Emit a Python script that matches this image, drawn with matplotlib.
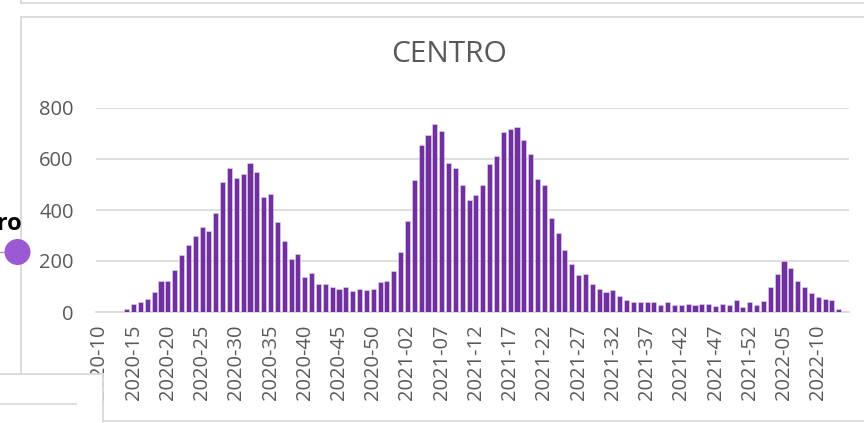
import matplotlib
matplotlib.use("Agg")
import matplotlib.pyplot as plt
from matplotlib.lines import Line2D
from matplotlib.patches import Rectangle, Ellipse

# ---- data ----
weeks_2020 = list(range(10, 54))
weeks_2021 = list(range(1, 53))
weeks_2022 = list(range(1, 15))
categories = ([f"2020-{w:02d}" for w in weeks_2020] +
              [f"2021-{w:02d}" for w in weeks_2021] +
              [f"2022-{w:02d}" for w in weeks_2022])

values = [0, 0, 0, 0,
          12, 32, 41, 52, 77, 120, 120, 165, 222, 261,
          300, 335, 316, 389, 509, 564, 525, 541, 583, 550,
          451, 463, 351, 277, 209, 227, 139, 154, 110, 110,
          100, 91, 100, 81, 91, 86, 91, 116, 121, 160,
          234, 355, 516, 654, 693, 739, 711, 585, 566, 497,
          438, 457, 497, 581, 610, 707, 716, 727, 673, 620,
          523, 497, 370, 308, 243, 188, 145, 150, 111, 91,
          78, 87, 62, 47, 39, 39, 39, 39, 27, 39,
          27, 27, 32, 27, 32, 32, 22, 32, 27, 47,
          18, 39, 27, 43, 97, 150, 199, 174, 121, 97,
          73, 58, 52, 47, 13, 0]

y_ticks = [0, 200, 400, 600, 800]
title = "CENTRO"
side_label = "Centro"

# ---- figure ----
W, H = 864, 423
fig = plt.figure(figsize=(W / 100, H / 100), dpi=100)
fig.patch.set_facecolor("white")

def fx(x):
    return x / W

def fy(y):
    return 1 - y / H

FONT = ["Open Sans", "DejaVu Sans"]
GRID = "#d9d9d9"
TXT = "#595959"

ax = fig.add_axes([fx(96), fy(312), (849 - 96) / W, (312 - 108) / H])
x = list(range(len(categories)))
ax.bar(x, values, width=0.74, color="#7030a0", edgecolor="#e4d6f0", linewidth=0.4, zorder=3)
ax.set_xlim(-0.5, len(categories) - 0.5)
ax.set_ylim(0, 800)
ax.set_yticks(y_ticks)
ax.set_yticklabels([str(v) for v in y_ticks], fontsize=14.5, color=TXT, family=FONT)
ax.set_xticks(x[::5])
ax.set_xticklabels(categories[::5], rotation=90, fontsize=14.5, color=TXT, family=FONT)
ax.tick_params(axis="both", length=0)
ax.tick_params(axis="y", pad=16)
ax.tick_params(axis="x", pad=9)
ax.yaxis.grid(True, color=GRID, linewidth=1.2, zorder=0)
ax.set_axisbelow(True)
for s in ["left", "right", "top"]:
    ax.spines[s].set_visible(False)
ax.spines["bottom"].set_color(GRID)
ax.spines["bottom"].set_linewidth(1.2)
ax.set_facecolor("none")

fig.text(fx(449), fy(55), title, ha="center", va="center", fontsize=21.5,
         color=TXT, family=FONT)

# ---- surrounding frames of the screenshot ----
def line(x0, y0, x1, y1, color=GRID, lw=1.3, z=5):
    fig.add_artist(Line2D([fx(x0), fx(x1)], [fy(y0), fy(y1)], color=color,
                          linewidth=lw, transform=fig.transFigure, zorder=z))

line(21, 0, 21, 3.5)
line(21, 3.5, 864, 3.5)
line(21, 17, 864, 17)
line(21, 17, 21, 374)

# box overlapping bottom-left
fig.add_artist(Rectangle((fx(0), fy(423)), fx(103), (423 - 374) / H,
                         facecolor="white", edgecolor="none",
                         transform=fig.transFigure, zorder=6))
line(0, 374, 103, 374, z=7)
line(103, 374, 103, 421, z=7)
line(103, 421, 864, 421, z=7)
line(0, 404, 76, 404, z=7)

# side legend marker and label
line(0, 252, 17, 252, color="#b48ddb", lw=1.0, z=8)
fig.add_artist(Ellipse((fx(17.5), fy(252)), 26 / W, 26 / H, facecolor="#9b59d3",
                       edgecolor="none", transform=fig.transFigure, zorder=9))
fig.text(fx(22), fy(230), side_label, ha="right", va="baseline", fontsize=17,
         fontweight="bold", color="black", family=FONT, zorder=9)

fig.savefig("out.png", dpi=100)
